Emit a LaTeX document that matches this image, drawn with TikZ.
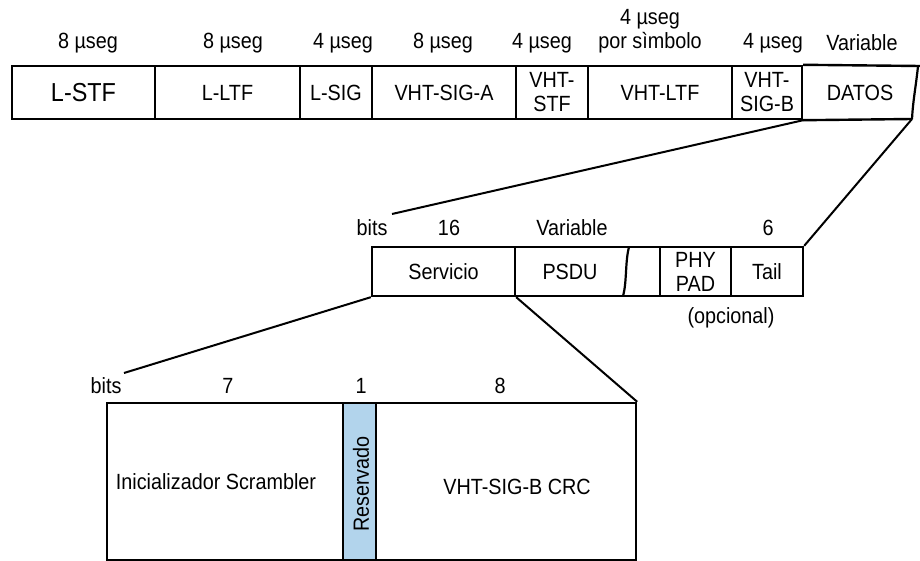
\documentclass[tikz,border=0pt]{standalone}
\usepackage{fontspec}
\setmainfont{Liberation Sans}[FakeStretch=0.9]
\newcommand\txtsz{\fontsize{22}{24}\selectfont}
\newcommand\bigsz{\fontsize{26}{29}\selectfont}
\definecolor{resblue}{RGB}{178,212,236}
\tikzset{
  cell/.style={draw, line width=2.4pt, inner sep=0pt, align=center, font=\txtsz},
  toprow/.style={cell, minimum height=53pt},
  midrow/.style={cell, minimum height=49pt},
  botrow/.style={cell, minimum height=157pt},
  lbl/.style={inner sep=0pt, align=center, font=\txtsz},
  link/.style={line width=2pt},
}
\begin{document}
\begin{tikzpicture}[x=1pt,y=-1pt]
\useasboundingbox (0,0) rectangle (920,561);

% ---- PPDU fields ----
\node[toprow, minimum width=143pt, font=\bigsz] (lstf) at (83.5,92.5) {L-STF};
\node[toprow, minimum width=145pt] (lltf) at (227.5,92.5) {L-LTF};
\node[toprow, minimum width=72pt]  (lsig) at (336,92.5) {L-SIG};
\node[toprow, minimum width=144pt] (siga) at (444,92.5) {VHT-SIG-A};
\node[toprow, minimum width=72pt]  (stf)  at (552,92.5) {VHT-\\STF};
\node[toprow, minimum width=144pt] (ltf)  at (660,92.5) {VHT-LTF};
\node[toprow, minimum width=70pt]  (sigb) at (767,92.5) {VHT-\\SIG-B};
\node[lbl] (datos) at (860,92.5) {DATOS};
% open-ended data field with a break line
\draw[line width=2.4pt] (sigb.north east) -- (920,66);
\draw[line width=2.4pt] (sigb.south east) -- (912,119) coordinate (datosend);
\draw[line width=2.2pt] (918,66) .. controls (916,86) and (913,100) .. (datosend);

% durations
\node[lbl] (d1) at (88,43) {8 µseg};
\node[lbl] (d2) at (233,43) {8 µseg};
\node[lbl] (d3) at (343,43) {4 µseg};
\node[lbl] (d4) at (443,43) {8 µseg};
\node[lbl] (d5) at (542,43) {4 µseg};
\node[lbl] (d6) at (650,31) {4 µseg\\por sìmbolo};
\node[lbl] (d7) at (773,43) {4 µseg};
\node[lbl] (d8) at (862,43) {Variable};

% ---- DATA field ----
\node[midrow, minimum width=143pt] (serv) at (443.5,271.5) {Servicio};
\node[midrow, minimum width=145pt] (psdu) at (587.5,271.5) {};
\node[lbl] (psdutxt) at (570,271.5) {PSDU};
\draw[line width=2.2pt] (629,247) .. controls (625,262) and (627,282) .. (623,296);
\node[midrow, minimum width=71pt] (pad)  at (695.5,271.5) {PHY\\PAD};
\node[midrow, minimum width=72pt] (tail) at (767,271.5) {Tail};

\node[lbl] (b1) at (372,228) {bits};
\node[lbl] (b2) at (449,228) {16};
\node[lbl] (b3) at (572,228) {Variable};
\node[lbl] (b4) at (768,228) {6};
\node[lbl] (opc) at (731,318) {(opcional)};

% ---- SERVICE field ----
\node[botrow, minimum width=236pt] (scr) at (225,481.5) {};
\node[lbl] (scrtxt) at (216,482) {Inicializador Scrambler};
\node[botrow, minimum width=33pt, fill=resblue] (res) at (359.5,481.5) {};
\node[lbl, rotate=90] (restxt) at (361,484) {Reservado};
\node[botrow, minimum width=260pt] (crc) at (506,481.5) {};
\node[lbl] (crctxt) at (517,487) {VHT-SIG-B CRC};

\node[lbl] (c1) at (106,386) {bits};
\node[lbl] (c2) at (228,386) {7};
\node[lbl] (c3) at (361,386) {1};
\node[lbl] (c4) at (500,386) {8};

% ---- expansion lines ----
\coordinate (midend) at (392,214);
\coordinate (botend) at (124,373);
\draw[link] (sigb.south east) -- (midend);
\draw[link] (datosend) -- (tail.north east);
\draw[link] (serv.south west) -- (botend);
\draw[link] (serv.south east) -- (crc.north east);
\end{tikzpicture}
\end{document}
